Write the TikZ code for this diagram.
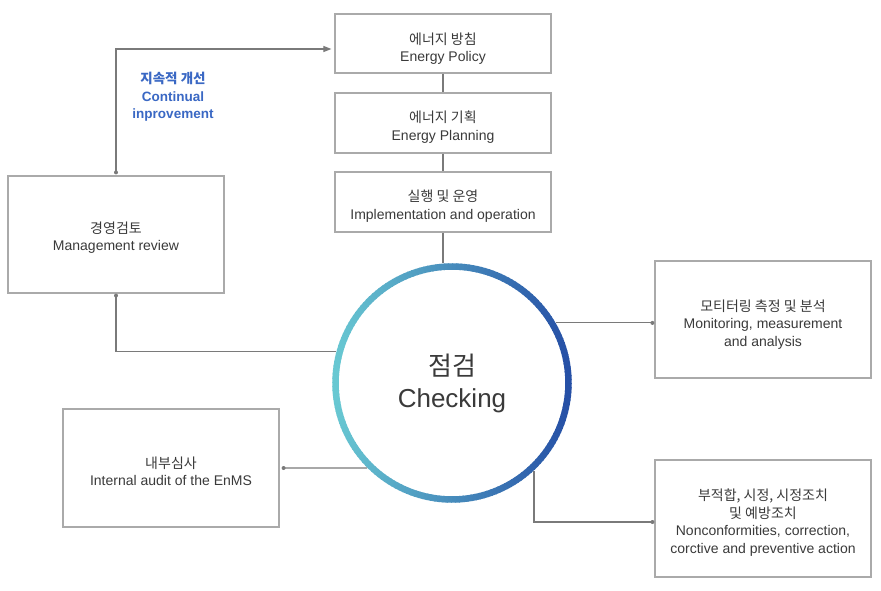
\documentclass[tikz,border=0pt]{standalone}
\usepackage{fontspec}
\setmainfont{Liberation Sans}
\newfontfamily\kr{Noto Sans CJK KR}
\usetikzlibrary{arrows.meta}
\definecolor{boxgray}{HTML}{AAAAAA}
\definecolor{linegray}{HTML}{7A7A7A}
\definecolor{txt}{HTML}{3A3A3A}
\definecolor{lblue}{HTML}{3A68C4}
\definecolor{ccyan}{HTML}{68C8D2}
\definecolor{cblue}{HTML}{2650A6}
\newcommand\lowr[1]{\rule{0pt}{#1pt}}
\tikzset{
  box/.style={draw=boxgray, line width=1.2pt, minimum width=216pt, align=center, text=txt, font=\fontsize{14}{17.5}\selectfont, inner sep=0pt},
  conn/.style={draw=linegray, line width=1.1pt},
  dot/.style={circle, fill=linegray, inner sep=0pt, minimum size=4pt},
}
\begin{document}
\begin{tikzpicture}[x=1pt,y=-1pt]
\useasboundingbox[fill=white] (0,0) rectangle (881,591);
% boxes
\node[box, minimum height=59pt] (pol) at (443,43.5) {\lowr{22}{\kr 에너지 방침}\\Energy Policy};
\node[box, minimum height=60pt] (pla) at (443,123) {\lowr{20}{\kr 에너지 기획}\\Energy Planning};
\node[box, minimum height=60pt] (imp) at (443,202) {\lowr{20}{\kr 실행 및 운영}\\Implementation and operation};
\node[box, minimum height=117pt] (mr) at (116,234.5) {\lowr{18}{\kr 경영검토}\\Management review};
\node[box, minimum height=117pt] (mon) at (763,319.5) {\lowr{21}{\kr 모티터링 측정 및 분석}\\Monitoring, measurement\\and analysis};
\node[box, minimum height=117pt] (nc) at (763,518.5) {\lowr{20}{\kr 부적합, 시정, 시정조치}\\{\kr 및 예방조치}\\Nonconformities, correction,\\corctive and preventive action};
\node[box, minimum height=118pt] (ia) at (171,468) {\lowr{18}{\kr 내부심사}\\Internal audit of the EnMS};
% circle
\node[circle, minimum size=240pt, inner sep=0pt, align=center, text=txt, font=\fontsize{26}{32}\selectfont] (chk) at (452,383) {{\kr 점검}\\Checking};
\foreach \a in {0,2,...,358}{
  \pgfmathsetmacro{\p}{50*(1+cos(\a+1))}
  \draw[line width=6.5pt, color=cblue!\p!ccyan] (chk.center) ++(\a:116.5) arc[start angle=\a, end angle=\a+2.6, radius=116.5];
}
% label
\node[align=center, text=lblue, font=\fontsize{13.5}{17.5}\selectfont\bfseries] (lab) at (173,97) {{\kr 지속적 개선}\\Continual\\inprovement};
% connectors
\draw[conn] (pol.south) -- (pla.north);
\draw[conn] (pla.south) -- (imp.north);
\draw[conn] (imp.south) -- (imp.south |- chk.north);
\coordinate (arr) at ([xshift=-3pt,yshift=-5.5pt]pol.west);
\draw[conn, -{Triangle[length=8pt,width=6pt]}] ([yshift=3pt]mr.north) |- (arr);
\node[dot] at ([yshift=3pt]mr.north) {};
\coordinate (mrb) at ([yshift=-2pt]mr.south);
\draw[conn] (mrb) |- (chk.165.5);
\node[dot] at (mrb) {};
\coordinate (mona) at ([xshift=-2pt]chk.30 -| mon.west);
\draw[conn] (chk.30) -- (mona);
\node[dot] at (mona) {};
\coordinate (nca) at ([xshift=-2pt,yshift=-3.5pt]nc.west);
\draw[conn] (chk.-47.5) |- (nca);
\node[dot] at (nca) {};
\coordinate (iaa) at ([xshift=4pt]ia.east);
\draw[conn] (iaa) -- (chk.225.1);
\node[dot] at (iaa) {};
\end{tikzpicture}
\end{document}
